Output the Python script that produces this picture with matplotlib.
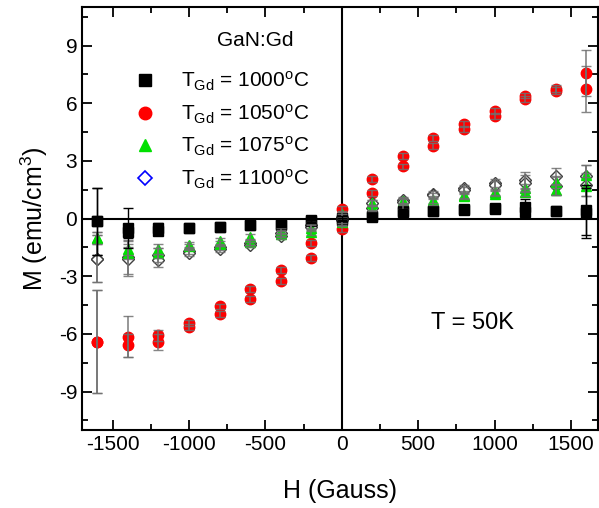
import numpy as np
import matplotlib
matplotlib.use('Agg')
import matplotlib.pyplot as plt
from matplotlib.lines import Line2D

plt.rcParams['font.family'] = ['Liberation Sans', 'DejaVu Sans']
plt.rcParams['mathtext.fontset'] = 'custom'
plt.rcParams['mathtext.rm'] = 'Liberation Sans'
plt.rcParams['mathtext.it'] = 'Liberation Sans:italic'
plt.rcParams['axes.unicode_minus'] = False

# field values (Gauss)
H = [-1600, -1400, -1200, -1000, -800, -600, -400, -200, 0,
     200, 400, 600, 800, 1000, 1200, 1400, 1600]

# T_Gd = 1000 C (two sweep branches)
blk_a = [-0.14, -0.5, -0.5, -0.48, -0.43, -0.36, -0.26, -0.09, 0.05,
         0.12, 0.38, 0.41, 0.43, 0.5, 0.62, 0.41, 0.47]
blk_b = [-0.14, -0.7, -0.65, -0.48, -0.43, -0.36, -0.35, -0.12, -0.05,
         0.1, 0.35, 0.41, 0.48, 0.55, 0.35, 0.41, 0.3]
blk_err_a = [1.75, 1.05, 0.25, 0.1, 0.1, 0.1, 0.1, 0.1, 0.1,
             0.1, 0.1, 0.1, 0.1, 0.1, 0.4, 0.1, 1.3]
blk_err_b = [1.75, 0.3, 0.2, 0.1, 0.1, 0.1, 0.1, 0.1, 0.1,
             0.1, 0.1, 0.1, 0.1, 0.1, 0.3, 0.1, 1.3]

# T_Gd = 1050 C
red_a = [-6.4, -6.14, -6.08, -5.43, -4.57, -3.67, -2.69, -1.29, 0.5,
         2.07, 3.26, 4.21, 4.93, 5.59, 6.4, 6.76, 7.57]
red_b = [-6.4, -6.6, -6.43, -5.65, -4.97, -4.19, -3.24, -2.05, -0.53,
         1.33, 2.71, 3.79, 4.67, 5.35, 6.22, 6.66, 6.74]
red_err_a = [2.7, 1.05, 0.3, 0.15, 0.15, 0.15, 0.15, 0.15, 0.15,
             0.15, 0.15, 0.15, 0.15, 0.15, 0.15, 0.2, 1.2]
red_err_b = [2.7, 0.6, 0.4, 0.15, 0.15, 0.15, 0.15, 0.15, 0.15,
             0.15, 0.15, 0.15, 0.15, 0.15, 0.15, 0.2, 1.2]

# T_Gd = 1075 C
grn_a = [-1.0, -1.6, -1.57, -1.35, -1.17, -0.97, -0.66, -0.48, 0.25,
         0.81, 0.93, 0.98, 1.24, 1.36, 1.6, 1.9, 2.27]
grn_b = [-1.0, -1.8, -1.8, -1.45, -1.3, -1.2, -0.8, -0.7, -0.2,
         0.57, 0.66, 0.85, 1.15, 1.3, 1.36, 1.5, 1.67]
grn_err = [0.3, 0.3, 0.25, 0.15, 0.15, 0.15, 0.15, 0.15, 0.15,
           0.15, 0.15, 0.15, 0.15, 0.15, 0.2, 0.3, 0.5]

# T_Gd = 1100 C
dia_a = [-2.08, -2.0, -1.9, -1.7, -1.5, -1.25, -0.75, -0.35, 0.1,
         0.8, 0.95, 1.3, 1.6, 1.85, 2.0, 2.19, 2.2]
dia_b = [-2.08, -2.08, -2.17, -1.78, -1.6, -1.35, -0.9, -0.45, -0.1,
         0.55, 0.85, 1.2, 1.5, 1.75, 1.85, 1.7, 1.76]
dia_err = [1.2, 0.9, 0.35, 0.15, 0.15, 0.15, 0.15, 0.15, 0.15,
           0.15, 0.15, 0.15, 0.15, 0.2, 0.4, 0.45, 0.6]

fig = plt.figure(figsize=(5.99, 5.08), dpi=100)
ax = fig.add_axes([0.137, 0.1535, 0.862, 0.8325])

ebar = dict(fmt='none', ecolor='#707070', elinewidth=1.2, capsize=3.5,
            capthick=1.0, zorder=5, alpha=0.85)

for y in (red_a, red_b):
    ax.plot(H, y, 'o', color='#ff0000', ms=7.5, mec='#ff0000', zorder=2)
ax.errorbar(H, red_a, yerr=red_err_a, **ebar)
ax.errorbar(H, red_b, yerr=red_err_b, **ebar)

for y in (dia_a, dia_b):
    ax.plot(H, y, 'D', ms=6, mfc='white', mec='#404040', mew=1.0, zorder=3)
    ax.errorbar(H, y, yerr=dia_err, **ebar)

for y in (grn_a, grn_b):
    ax.plot(H, y, '^', color='#00e000', ms=7.5, zorder=3)
    ax.errorbar(H, y, yerr=grn_err, **ebar)

for y, e in ((blk_a, blk_err_a), (blk_b, blk_err_b)):
    ax.plot(H, y, 's', color='black', ms=7, zorder=4)
    ax.errorbar(H, y, yerr=e, fmt='none', ecolor='black',
                elinewidth=1.0, capsize=3.5, capthick=1.0, zorder=5)

ax.axhline(0, color='black', lw=1.5, zorder=1)
ax.axvline(0, color='black', lw=1.5, zorder=1)

ax.set_xlim(-1700, 1680)
ax.set_ylim(-11, 11)
ax.set_xticks([-1500, -1000, -500, 0, 500, 1000, 1500])
ax.set_xticks(np.arange(-1500, 1501, 250), minor=True)
ax.set_yticks([-9, -6, -3, 0, 3, 6, 9])
ax.set_yticks(np.arange(-10.5, 10.6, 1.5), minor=True)
ax.tick_params(which='both', direction='in', top=True, right=True,
               labelsize=15, width=1.3)
ax.tick_params(which='major', length=7)
ax.tick_params(which='minor', length=4)
for s in ax.spines.values():
    s.set_linewidth(1.5)

ax.set_xlabel('H (Gauss)', fontsize=18, labelpad=18)
ax.set_ylabel('M (emu/cm$^{3}$)', fontsize=18, labelpad=6)

handles = [
    Line2D([], [], ls='none', marker='s', color='black', ms=8),
    Line2D([], [], ls='none', marker='o', color='#ff0000', ms=9),
    Line2D([], [], ls='none', marker='^', color='#00e000', ms=9),
    Line2D([], [], ls='none', marker='D', mfc='white', mec='#0000ff', mew=1.2, ms=7.5),
]
labels = [r'T$_{\mathrm{Gd}}$ = 1000$^{\mathrm{o}}$C',
          r'T$_{\mathrm{Gd}}$ = 1050$^{\mathrm{o}}$C',
          r'T$_{\mathrm{Gd}}$ = 1075$^{\mathrm{o}}$C',
          r'T$_{\mathrm{Gd}}$ = 1100$^{\mathrm{o}}$C']
ax.legend(handles, labels, loc='upper left', bbox_to_anchor=(0.065, 0.872),
          frameon=False, fontsize=15, handletextpad=0.75, labelspacing=0.45,
          borderaxespad=0)

ax.text(0.335, 0.922, 'GaN:Gd', transform=ax.transAxes, fontsize=15,
        ha='center', va='center')
ax.text(0.756, 0.253, 'T = 50K', transform=ax.transAxes, fontsize=17,
        ha='center', va='center')

fig.savefig('out.png', dpi=100)
